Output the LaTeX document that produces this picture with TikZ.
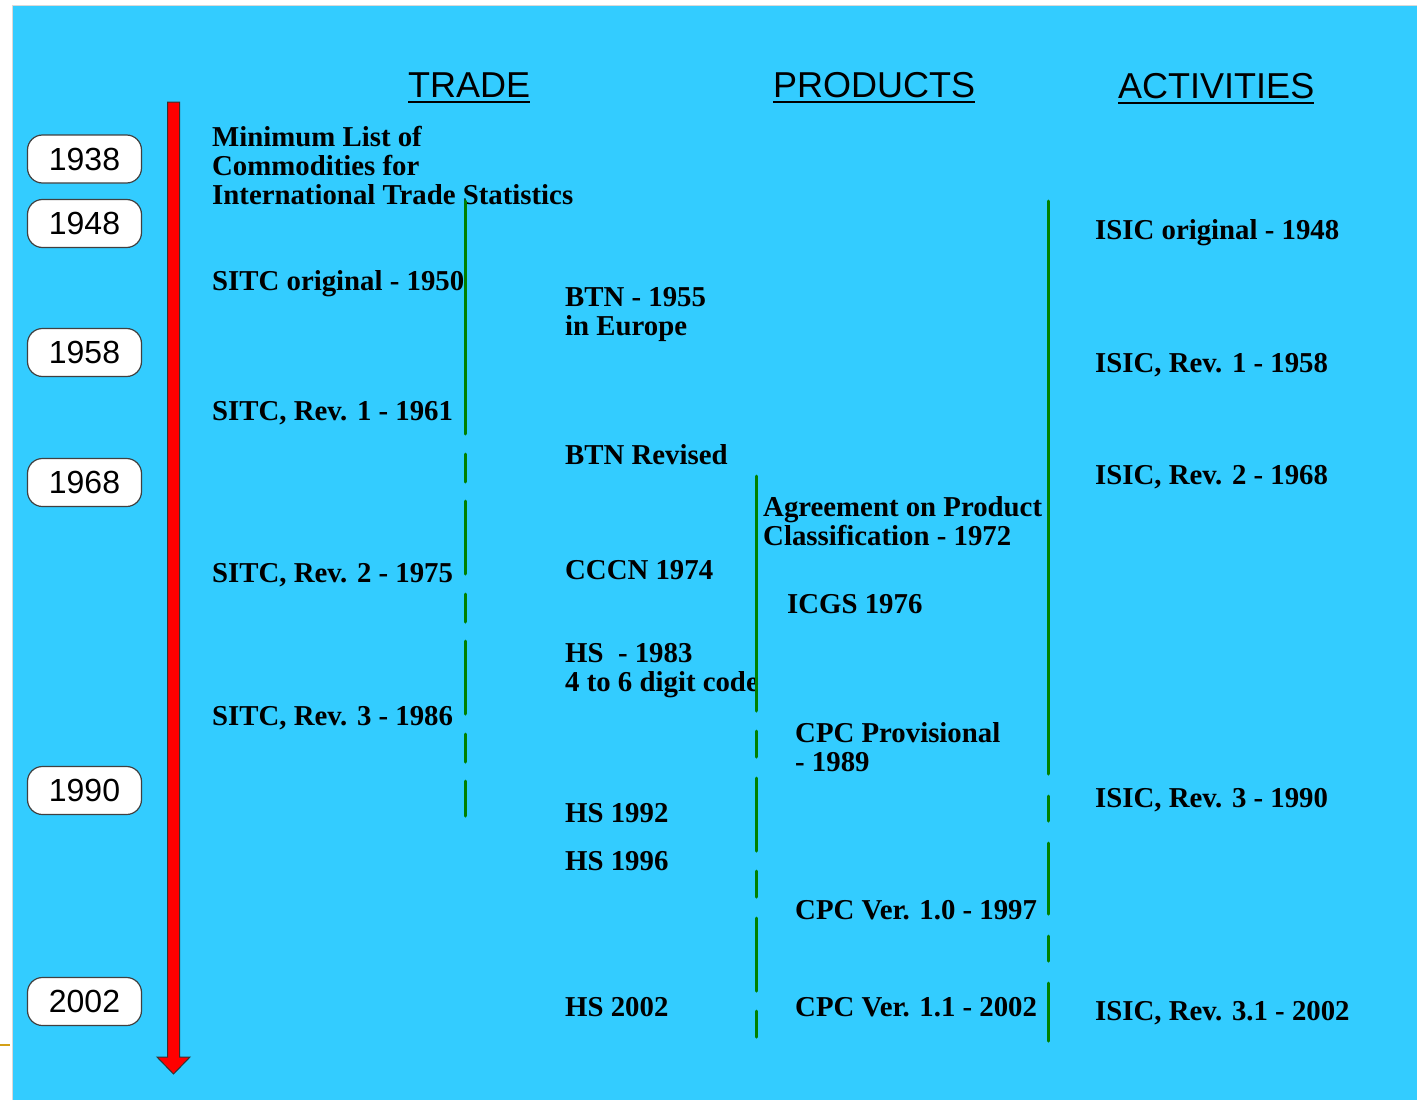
\documentclass[tikz,border=0pt]{standalone}
\usepackage{fontspec}
\setmainfont{Liberation Serif}
\newfontfamily\arialfont{Liberation Sans}
\definecolor{sky}{HTML}{33CCFF}
\definecolor{trackgreen}{HTML}{008000}
\definecolor{goldline}{HTML}{D4A017}

\begin{document}
\begin{tikzpicture}[x=1pt,y=-1pt,
  entry/.style={anchor=base west, inner sep=0pt, align=left,
    font=\fontsize{28.8}{29}\selectfont\bfseries},
  head/.style={anchor=base west, inner sep=0pt,
    font=\arialfont\fontsize{36}{40}\selectfont},
  year/.style={draw=black!75, line width=1.2pt, fill=white,
    rounded corners=15pt, minimum width=114pt, minimum height=48pt,
    inner sep=0pt, font=\arialfont\fontsize{32}{36}\selectfont},
  track/.style={draw=trackgreen, line width=3pt, line cap=round}]

\useasboundingbox (0,0) rectangle (1417,1100);

% slide background
\fill[white] (0,0) rectangle (1417,1100);
\fill[sky] (12,5) rectangle (1417,1100);
\draw[black!15, line width=0.8pt] (12,1100) -- (12,5) -- (1417,5);
\draw[goldline, line width=2.5pt] (0,1045) -- (10,1045);

% time arrow
\filldraw[fill=red, draw=black!80, line width=1pt]
  (167.5,102) -- (179.5,102) -- (179.5,1057) -- (190,1057)
  -- (173.5,1074) -- (157,1057) -- (167.5,1057) -- cycle;

% year markers
\node[year] (y1938) at (84.5,159)   {1938};
\node[year] (y1948) at (84.5,223.5) {1948};
\node[year] (y1958) at (84.5,352.5) {1958};
\node[year] (y1968) at (84.5,482.5) {1968};
\node[year] (y1990) at (84.5,790.5) {1990};
\node[year] (y2002) at (84.5,1001.5){2002};

% column headings
\node[head] (trade)    at (408,97)  {TRADE};
\node[head] (products) at (773,97)  {PRODUCTS};
\node[head] (activ)    at (1118,98) {ACTIVITIES};
\foreach \h in {trade,products,activ}
  \draw[black, line width=2.2pt]
    ([yshift=-5pt]\h.base west) -- ([yshift=-5pt]\h.base east);

% trade column (multi-line entries are placed by their last baseline)
\node[entry] (mlc)   at (212,204) {Minimum List of\\Commodities for\\International Trade Statistics};
\node[entry] (sitc0) at (212,290) {SITC original - 1950};
\node[entry] (sitc1) at (212,420) {SITC, Rev. 1 - 1961};
\node[entry] (sitc2) at (212,582) {SITC, Rev. 2 - 1975};
\node[entry] (sitc3) at (212,725) {SITC, Rev. 3 - 1986};

% products column (tariff nomenclatures)
\node[entry] (btn)   at (565,335)  {BTN - 1955\\in Europe};
\node[entry] (btnr)  at (565,464)  {BTN Revised};
\node[entry] (cccn)  at (565,579)  {CCCN 1974};
\node[entry] (hs83)  at (565,691)  {HS \ - 1983\\4 to 6 digit code};
\node[entry] (hs92)  at (565,822)  {HS 1992};
\node[entry] (hs96)  at (565,870)  {HS 1996};
\node[entry] (hs02)  at (565,1016) {HS 2002};

% products column (product classifications)
\node[entry] (apc)   at (763,545)  {Agreement on Product\\Classification - 1972};
\node[entry] (icgs)  at (787,613)  {ICGS 1976};
\node[entry] (cpcp)  at (795,771)  {CPC Provisional\\- 1989};
\node[entry] (cpc10) at (795,919)  {CPC Ver. 1.0 - 1997};
\node[entry] (cpc11) at (795,1016) {CPC Ver. 1.1 - 2002};

% activities column
\node[entry] (isic0) at (1095,239)  {ISIC original - 1948};
\node[entry] (isic1) at (1095,372)  {ISIC, Rev. 1 - 1958};
\node[entry] (isic2) at (1095,484)  {ISIC, Rev. 2 - 1968};
\node[entry] (isic3) at (1095,807)  {ISIC, Rev. 3 - 1990};
\node[entry] (isic31) at (1095,1020) {ISIC, Rev. 3.1 - 2002};

% separator tracks: solid while active, dashed afterwards
\foreach \a/\b in {201/434,454/482,501/574,594/622,641/714,734/762,781/816}
  \draw[track] (465,\a) -- (465,\b);
\foreach \a/\b in {476/711,731/757,778/851,871/897,918/991,1011/1037}
  \draw[track] (756,\a) -- (756,\b);
\foreach \a/\b in {201/774,796/821,843/914,936/961,983/1041}
  \draw[track] (1048,\a) -- (1048,\b);

\end{tikzpicture}
\end{document}
